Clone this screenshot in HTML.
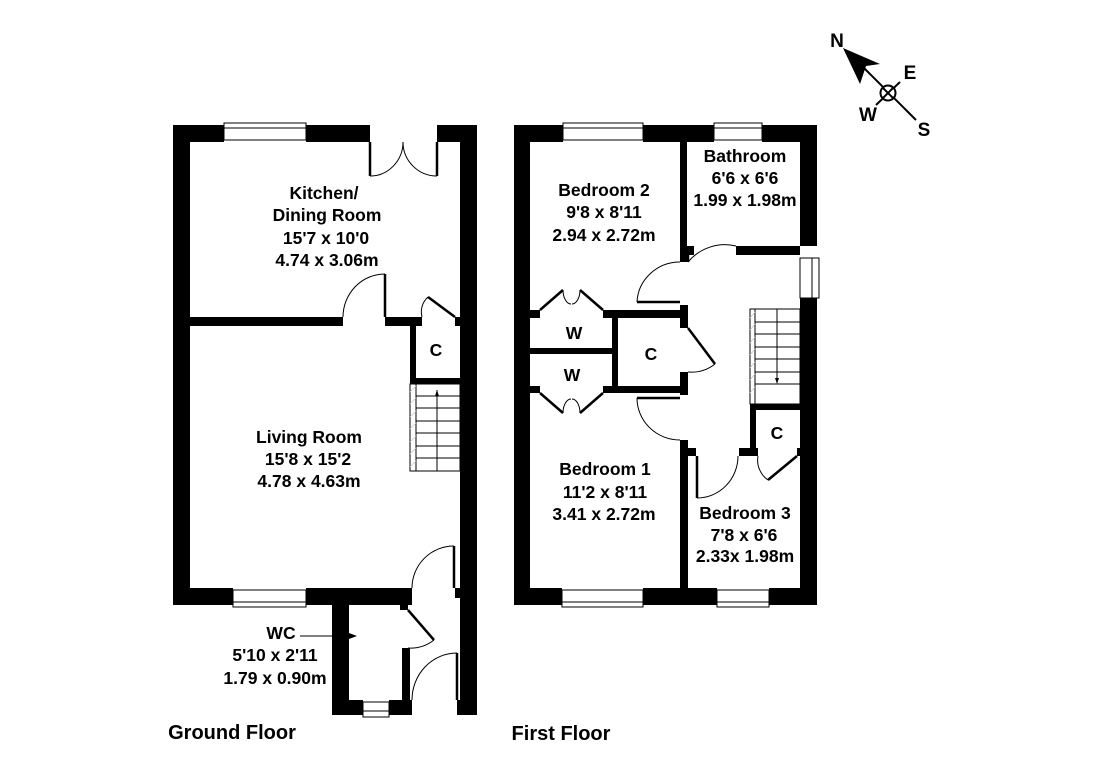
<!DOCTYPE html>
<html><head><meta charset="utf-8"><style>
html,body{margin:0;padding:0;background:#fff;}
svg{display:block;}
text{font-family:"Liberation Sans",sans-serif;font-weight:bold;font-size:17.5px;fill:#000;text-anchor:middle;}
</style></head><body>
<svg width="1095" height="774" viewBox="0 0 1095 774" xmlns="http://www.w3.org/2000/svg">
<g fill="#000">
<rect x="173" y="125" width="51" height="17"/>
<rect x="306" y="125" width="64" height="17"/>
<rect x="437" y="125" width="40" height="17"/>
<rect x="173" y="125" width="17" height="480"/>
<rect x="460" y="125" width="17" height="590"/>
<rect x="173" y="588" width="60" height="17"/>
<rect x="306" y="588" width="106" height="17"/>
<rect x="190" y="317" width="153" height="9"/>
<rect x="385" y="317" width="37" height="9"/>
<rect x="410" y="317" width="6" height="67"/>
<rect x="410" y="378" width="50" height="6"/>
<rect x="455" y="317" width="5" height="9"/>
<rect x="332" y="597" width="17" height="118"/>
<rect x="332" y="700" width="31" height="15"/>
<rect x="389" y="700" width="23" height="15"/>
<rect x="400" y="597" width="8" height="13"/>
<rect x="402" y="648" width="8" height="52"/>
<rect x="455" y="588" width="5" height="10"/>
<rect x="457" y="700" width="20" height="15"/>
<rect x="514" y="125" width="49" height="17"/>
<rect x="643" y="125" width="71" height="17"/>
<rect x="762" y="125" width="55" height="17"/>
<rect x="514" y="125" width="16" height="480"/>
<rect x="800" y="125" width="17" height="121"/>
<rect x="800" y="298" width="17" height="307"/>
<rect x="514" y="588" width="48" height="17"/>
<rect x="643" y="588" width="74" height="17"/>
<rect x="769" y="588" width="48" height="17"/>
<rect x="680" y="142" width="7" height="120"/>
<rect x="680" y="246" width="14" height="9"/>
<rect x="736" y="246" width="64" height="9"/>
<rect x="514" y="310" width="26" height="8"/>
<rect x="603" y="310" width="85" height="8"/>
<rect x="680" y="305" width="8" height="23"/>
<rect x="680" y="372" width="8" height="23"/>
<rect x="530" y="348" width="82" height="6"/>
<rect x="612" y="310" width="6" height="83"/>
<rect x="514" y="386" width="26" height="7"/>
<rect x="603" y="386" width="85" height="7"/>
<rect x="680" y="440" width="8" height="148"/>
<rect x="680" y="448" width="16" height="8"/>
<rect x="739" y="448" width="19" height="8"/>
<rect x="750" y="404" width="6" height="52"/>
<rect x="750" y="404" width="50" height="6"/>
<rect x="797" y="448" width="6" height="8"/>
</g>
<g fill="none" stroke="#000" stroke-width="1">
<rect x="224" y="123" width="82" height="17"/>
<line x1="224" y1="128" x2="306" y2="128"/>
<rect x="233" y="590" width="73" height="17"/>
<line x1="233" y1="602" x2="306" y2="602"/>
<rect x="363" y="702" width="26" height="15"/>
<line x1="363" y1="711" x2="389" y2="711"/>
<rect x="563" y="123" width="80" height="17"/>
<line x1="563" y1="128" x2="643" y2="128"/>
<rect x="714" y="123" width="48" height="17"/>
<line x1="714" y1="128" x2="762" y2="128"/>
<rect x="562" y="590" width="81" height="17"/>
<line x1="562" y1="602" x2="643" y2="602"/>
<rect x="717" y="590" width="52" height="17"/>
<line x1="717" y1="602" x2="769" y2="602"/>
<rect x="800" y="258" width="19" height="40"/>
<line x1="812" y1="258" x2="812" y2="298"/>
<path d="M370 176 A33 34 0 0 0 403 142"/>
<path d="M437 176 A34 34 0 0 1 403 142"/>
<path d="M343 317 A42 43 0 0 1 385 274"/>
<path d="M428 297 A20 20 0 0 0 422 317"/>
<path d="M412 588 A42 42 0 0 1 454 546"/>
<path d="M434 640 A38 38 0 0 1 408 648"/>
<path d="M412 700 A45 47 0 0 1 457 653"/>
<path d="M688 262 A48 48 0 0 1 736 246"/>
<path d="M637 302 A43 42 0 0 1 680 262"/>
<path d="M715 364 A38 38 0 0 1 688 372"/>
<path d="M637 398 A43 42 0 0 0 680 440"/>
<path d="M697 498 A41 42 0 0 0 738 456"/>
<path d="M758 456 A24 24 0 0 0 768 480"/>
<path d="M563 290 A8 14 0 0 0 571 304"/>
<path d="M580 290 A8 14 0 0 1 572 304"/>
<path d="M563 413 A8 14 0 0 1 571 399"/>
<path d="M580 413 A8 14 0 0 0 572 399"/>
<rect x="410" y="384" width="50" height="87"/>
<line x1="416" y1="384" x2="416" y2="471"/>
<line x1="416" y1="396" x2="460" y2="396"/><line x1="416" y1="408" x2="460" y2="408"/>
<line x1="416" y1="421" x2="460" y2="421"/><line x1="416" y1="433" x2="460" y2="433"/>
<line x1="416" y1="446" x2="460" y2="446"/><line x1="416" y1="458" x2="460" y2="458"/>
<line x1="437" y1="471" x2="437" y2="390"/>
<rect x="750" y="309" width="50" height="95"/>
<line x1="755" y1="309" x2="755" y2="404"/>
<line x1="755" y1="322" x2="800" y2="322"/><line x1="755" y1="334" x2="800" y2="334"/>
<line x1="755" y1="347" x2="800" y2="347"/><line x1="755" y1="359" x2="800" y2="359"/>
<line x1="755" y1="372" x2="800" y2="372"/><line x1="755" y1="384" x2="800" y2="384"/>
<line x1="777" y1="309" x2="777" y2="382"/>
<line x1="300" y1="636" x2="350" y2="636"/>
</g>
<g stroke="#ccc" stroke-width="0.8">
<line x1="410" y1="392" x2="416" y2="386"/><line x1="410" y1="404" x2="416" y2="398"/><line x1="410" y1="417" x2="416" y2="411"/><line x1="410" y1="429" x2="416" y2="423"/><line x1="410" y1="442" x2="416" y2="436"/><line x1="410" y1="454" x2="416" y2="448"/><line x1="410" y1="467" x2="416" y2="461"/>
<line x1="750" y1="318" x2="755" y2="312"/><line x1="750" y1="330" x2="755" y2="324"/><line x1="750" y1="343" x2="755" y2="337"/><line x1="750" y1="355" x2="755" y2="349"/><line x1="750" y1="368" x2="755" y2="362"/><line x1="750" y1="380" x2="755" y2="374"/><line x1="750" y1="393" x2="755" y2="387"/>
</g>
<g stroke="#000" stroke-width="2.5" fill="none">
<line x1="370" y1="142" x2="370" y2="176"/>
<line x1="437" y1="142" x2="437" y2="176"/>
<line x1="385" y1="274" x2="385" y2="317"/>
<line x1="428" y1="297" x2="455" y2="317"/>
<line x1="454" y1="546" x2="454" y2="588"/>
<line x1="408" y1="610" x2="434" y2="640"/>
<line x1="457" y1="653" x2="457" y2="700"/>
<line x1="688" y1="262" x2="688" y2="246"/>
<line x1="637" y1="302" x2="680" y2="302"/>
<line x1="688" y1="328" x2="715" y2="364"/>
<line x1="637" y1="398" x2="680" y2="398"/>
<line x1="697" y1="456" x2="697" y2="498"/>
<line x1="797" y1="456" x2="768" y2="480"/>
<polyline points="540,310 563,290"/><polyline points="603,310 580,290"/>
<polyline points="540,393 563,413"/><polyline points="603,393 580,413"/>
</g>
<polygon points="437,390 435,396 439,396" fill="#000"/>
<polygon points="777,384 775,378 779,378" fill="#000"/>
<polygon points="357,636 349,633 349,639" fill="#000"/>
<line x1="852" y1="56" x2="916" y2="120" stroke="#000" stroke-width="2"/>
<line x1="876" y1="105" x2="900" y2="82" stroke="#000" stroke-width="2"/>
<circle cx="888" cy="93" r="7.5" fill="#fff" stroke="#000" stroke-width="2"/>
<line x1="883" y1="88" x2="893" y2="98" stroke="#000" stroke-width="2"/>
<line x1="893" y1="88" x2="883" y2="98" stroke="#000" stroke-width="2"/>
<polygon points="843,48 880,64 866,66 860,84" fill="#000"/>
<text x="837" y="47" style="font-size:19px">N</text>
<text x="910" y="79" style="font-size:19px">E</text>
<text x="868" y="121" style="font-size:19px">W</text>
<text x="924" y="136" style="font-size:19px">S</text>
<text x="324" y="199">Kitchen/</text>
<text x="327" y="221">Dining Room</text>
<text x="326" y="244">15'7 x 10'0</text>
<text x="327" y="266">4.74 x 3.06m</text>
<text x="436" y="356">C</text>
<text x="309" y="443">Living Room</text>
<text x="308" y="465">15'8 x 15'2</text>
<text x="309" y="487">4.78 x 4.63m</text>
<text x="281" y="639">WC</text>
<text x="275" y="661">5'10 x 2'11</text>
<text x="275" y="684">1.79 x 0.90m</text>
<text x="232" y="739" style="font-size:20px">Ground Floor</text>
<text x="604" y="196">Bedroom 2</text>
<text x="604" y="218">9'8 x 8'11</text>
<text x="604" y="241">2.94 x 2.72m</text>
<text x="745" y="162">Bathroom</text>
<text x="745" y="184">6'6 x 6'6</text>
<text x="745" y="206">1.99 x 1.98m</text>
<text x="574" y="339">W</text>
<text x="572" y="381">W</text>
<text x="651" y="360">C</text>
<text x="777" y="439">C</text>
<text x="605" y="475">Bedroom 1</text>
<text x="605" y="498">11'2 x 8'11</text>
<text x="604" y="520">3.41 x 2.72m</text>
<text x="745" y="519">Bedroom 3</text>
<text x="744" y="541">7'8 x 6'6</text>
<text x="745" y="562">2.33x 1.98m</text>
<text x="561" y="740" style="font-size:20px">First Floor</text>
</svg>
</body></html>
